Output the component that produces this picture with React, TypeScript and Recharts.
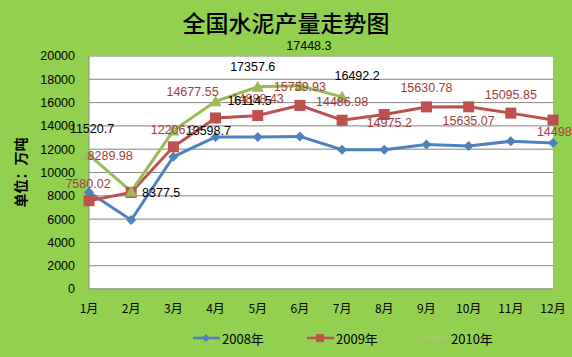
import React from 'react';
import {
  LineChart,
  Line,
  XAxis,
  YAxis,
  CartesianGrid,
  Legend,
} from 'recharts';

const months = ['1月', '2月', '3月', '4月', '5月', '6月', '7月', '8月', '9月', '10月', '11月', '12月'];
const output2008 = [8300, 5920, 11350, 13050, 13050, 13100, 11950, 11950, 12400, 12280, 12680, 12540];
const output2009 = [7580.02, 8289.98, 12206.3, 14677.55, 14888.43, 15759.93, 14486.98, 14975.2, 15630.78, 15635.07, 15095.85, 14498.48];
const output2010 = [11520.7, 8377.5, 13598.7, 16114.5, 17357.6, 17448.3, 16492.2, null, null, null, null, null];
const yTicks = [0, 2000, 4000, 6000, 8000, 10000, 12000, 14000, 16000, 18000, 20000];

const data = months.map((m, i) => ({
  month: m,
  y2008: output2008[i],
  y2009: output2009[i],
  y2010: output2010[i],
}));

const minorLines: number[] = [];
for (let v = 0; v <= 20000; v += 400) minorLines.push(v);

// label offsets from the point, copied from how the spreadsheet placed them
const offs2009 = [[-1, -17], [-21, -36], [0, -17], [-23, -26], [0, -17], [0, -18], [0, -18], [5, 8], [0, -19], [0, 14], [0, -18], [10, 12]];
const offs2010 = [[3, -26], [30, 2], [35, 0], [34, 0], [-5, -20], [9, -40], [15, -21]];

const BLUE = '#4F81BD';
const RED = '#C0504D';
const GREEN = '#9BBB59';
const FONT = '"Liberation Sans", Arial, sans-serif';
const CJK = '"Noto Sans CJK SC", "Liberation Sans", sans-serif';

const makeLabel = (offs: number[][], color: string) => (props: any) => {
  const { x, y, value, index } = props;
  if (value == null || !offs[index]) return null;
  const [dx, dy] = offs[index];
  return (
    <text x={x + dx} y={y + dy} fill={color} fontSize={12.5} fontFamily={FONT}
      textAnchor="middle" dominantBaseline="central">
      {value}
    </text>
  );
};

const Diamond = (props: any) => {
  const { cx, cy } = props;
  if (cx == null || cy == null) return null;
  return <path d={`M${cx},${cy - 5}L${cx + 5},${cy}L${cx},${cy + 5}L${cx - 5},${cy}Z`} fill={BLUE} />;
};
const Square = (props: any) => {
  const { cx, cy } = props;
  if (cx == null || cy == null) return null;
  return <rect x={cx - 5.5} y={cy - 5.5} width={11} height={11} fill={RED} />;
};
const Triangle = (props: any) => {
  const { cx, cy } = props;
  if (cx == null || cy == null) return null;
  return <path d={`M${cx},${cy - 6}L${cx + 6},${cy + 5}L${cx - 6},${cy + 5}Z`} fill={GREEN} />;
};

const legendItems = [
  { name: '2008年', color: BLUE, x: 193, mark: 'd' },
  { name: '2009年', color: RED, x: 307, mark: 's' },
  { name: '2010年', color: '#A9C76E', x: 422, mark: 't' },
];

const LegendBox = () => (
  <svg width={572} height={20} style={{ display: 'block' }}>
    {legendItems.map((it) => {
      const cx = it.x + 13;
      return (
        <g key={it.name}>
          <line x1={it.x} x2={it.x + 27} y1={10} y2={10} stroke={it.color} strokeWidth={2.5} />
          {it.mark === 'd' && <path d={`M${cx},6L${cx + 4},10L${cx},14L${cx - 4},10Z`} fill={it.color} />}
          {it.mark === 's' && <rect x={cx - 4} y={6} width={8} height={8} fill={it.color} />}
          {it.mark === 't' && <path d={`M${cx},6L${cx + 4},13L${cx - 4},13Z`} fill={it.color} />}
          <text x={it.x + 29} y={10} dominantBaseline="central" fontSize={13} fontFamily={CJK} fill="#000">
            {it.name}
          </text>
        </g>
      );
    })}
  </svg>
);

export default function App() {
  return (
    <div style={{ position: 'absolute', left: 0, top: 0, width: 572, height: 357, background: '#92D050' }}>
      <div style={{
        position: 'absolute', left: 0, top: 6, width: 572, textAlign: 'center',
        fontFamily: CJK, fontSize: 23, fontWeight: 500, color: '#000', lineHeight: '32px',
      }}>
        全国水泥产量走势图
      </div>
      <LineChart width={572} height={357} data={data}
        margin={{ top: 56, right: 19, bottom: 0, left: 0 }}>
        <CartesianGrid vertical={false} horizontalValues={minorLines} stroke="#E8E8E8" fill="#FFFFFF" />
        <CartesianGrid vertical={false} horizontalValues={yTicks} stroke="#8C8C8C" />
        <XAxis dataKey="month" tickLine={false} axisLine={{ stroke: '#8C8C8C' }}
          tick={{ fontSize: 12, fontFamily: CJK, fill: '#000' }} tickMargin={9} height={48} interval={0} />
        <YAxis domain={[0, 20000]} ticks={yTicks} width={89} tickLine={false}
          axisLine={{ stroke: '#8C8C8C' }} tickMargin={8}
          tick={{ fontSize: 12.5, fontFamily: FONT, fill: '#000' }}
          label={{ value: '单位：万吨', angle: -90, position: 'insideLeft', offset: 21,
            style: { fontSize: 14, fontWeight: 700, fontFamily: CJK, fill: '#000', textAnchor: 'middle' } }} />
        <Legend verticalAlign="bottom" content={<LegendBox />}
          wrapperStyle={{ left: 0, bottom: 9, width: 572 }} />
        <Line dataKey="y2008" stroke={BLUE} strokeWidth={3} dot={<Diamond />} activeDot={false}
          isAnimationActive={false} />
        <Line dataKey="y2009" stroke={RED} strokeWidth={3} dot={<Square />} activeDot={false}
          isAnimationActive={false} label={makeLabel(offs2009, '#A0403D')} />
        <Line dataKey="y2010" stroke={GREEN} strokeWidth={3} dot={<Triangle />} activeDot={false}
          isAnimationActive={false} label={makeLabel(offs2010, '#000')} />
      </LineChart>
    </div>
  );
}
